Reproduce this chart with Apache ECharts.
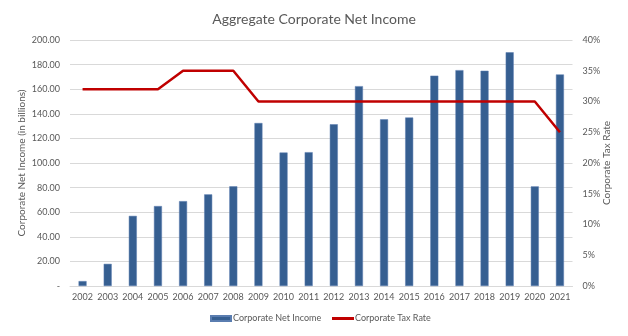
<!DOCTYPE html>
<html>
<head>
<meta charset="utf-8">
<script src="https://cdn.jsdelivr.net/npm/echarts@6/dist/echarts.min.js"></script>
<style>
  html, body { margin: 0; padding: 0; background: #fff; }
  #chart { width: 628px; height: 336px; }
</style>
</head>
<body>
<div id="chart"></div>
<script>
// Fiscal years on the category axis
const years = ['2002','2003','2004','2005','2006','2007','2008','2009','2010','2011',
               '2012','2013','2014','2015','2016','2017','2018','2019','2020','2021'];
// Aggregate corporate net income, in billions
const netIncome = [4, 18, 57, 65, 69, 74.5, 81, 132.5, 108.5, 108.8,
                   131.5, 162.5, 135.5, 137, 171, 175.5, 175, 190, 81, 172];
// Statutory corporate tax rate (fraction)
const taxRate = [0.32, 0.32, 0.32, 0.32, 0.35, 0.35, 0.35, 0.30, 0.30, 0.30,
                 0.30, 0.30, 0.30, 0.30, 0.30, 0.30, 0.30, 0.30, 0.30, 0.25];

const FONT = 'Lato, "Open Sans", sans-serif';
const TEXT = '#595959';

const chart = echarts.init(document.getElementById('chart'));
chart.setOption({
  animation: false,
  textStyle: { fontFamily: FONT },
  title: {
    text: 'Aggregate Corporate Net Income',
    left: 'center',
    top: 7,
    textStyle: { fontFamily: FONT, fontSize: 14, fontWeight: 'normal', color: TEXT }
  },
  legend: [
    {
      bottom: 8,
      left: 205,
      itemWidth: 20,
      itemHeight: 5,
      textStyle: { fontFamily: FONT, fontSize: 9, color: TEXT, padding: [0, 0, 0, -3] },
      data: [{ name: 'Corporate Net Income', icon: 'rect' }]
    },
    {
      bottom: 8,
      left: 327,
      itemWidth: 22,
      itemHeight: 3,
      textStyle: { fontFamily: FONT, fontSize: 9, color: TEXT, padding: [0, 0, 0, -4] },
      data: [{ name: 'Corporate Tax Rate', icon: 'rect' }]
    }
  ],
  grid: { left: 70, right: 55.5, top: 40, bottom: 50 },
  xAxis: {
    type: 'category',
    data: years,
    boundaryGap: true,
    axisLine: { lineStyle: { color: '#d9d9d9', width: 1 } },
    axisTick: { show: false },
    axisLabel: { color: TEXT, fontSize: 9, margin: 7, interval: 0 }
  },
  yAxis: [
    {
      type: 'value',
      min: 0, max: 200, interval: 20,
      name: 'Corporate Net Income (in billions)',
      nameLocation: 'middle',
      nameGap: 43,
      nameMoveOverlap: false,
      nameTextStyle: { color: TEXT, fontSize: 10, fontFamily: FONT },
      axisLine: { show: false },
      axisTick: { show: false },
      splitLine: { lineStyle: { color: '#d9d9d9', width: 1 } },
      axisLabel: {
        color: TEXT, fontSize: 9, margin: 10,
        formatter: v => v === 0 ? '-' : v.toFixed(2)
      }
    },
    {
      type: 'value',
      min: 0, max: 0.4, interval: 0.05,
      name: 'Corporate Tax Rate',
      nameLocation: 'middle',
      nameGap: 29,
      nameRotate: 90,
      nameMoveOverlap: false,
      nameTextStyle: { color: TEXT, fontSize: 10, fontFamily: FONT },
      axisLine: { show: false },
      axisTick: { show: false },
      splitLine: { show: false },
      axisLabel: {
        color: TEXT, fontSize: 9, margin: 10,
        formatter: v => Math.round(v * 100) + '%'
      }
    }
  ],
  series: [
    {
      name: 'Corporate Net Income',
      type: 'bar',
      data: netIncome,
      yAxisIndex: 0,
      barWidth: 8,
      itemStyle: { color: '#365f91', borderColor: '#5a7db0', borderWidth: 0.5 }
    },
    {
      name: 'Corporate Tax Rate',
      type: 'line',
      data: taxRate,
      yAxisIndex: 1,
      symbol: 'none',
      lineStyle: { color: '#c00000', width: 2.5 },
      itemStyle: { color: '#c00000' }
    }
  ]
});
</script>
</body>
</html>
